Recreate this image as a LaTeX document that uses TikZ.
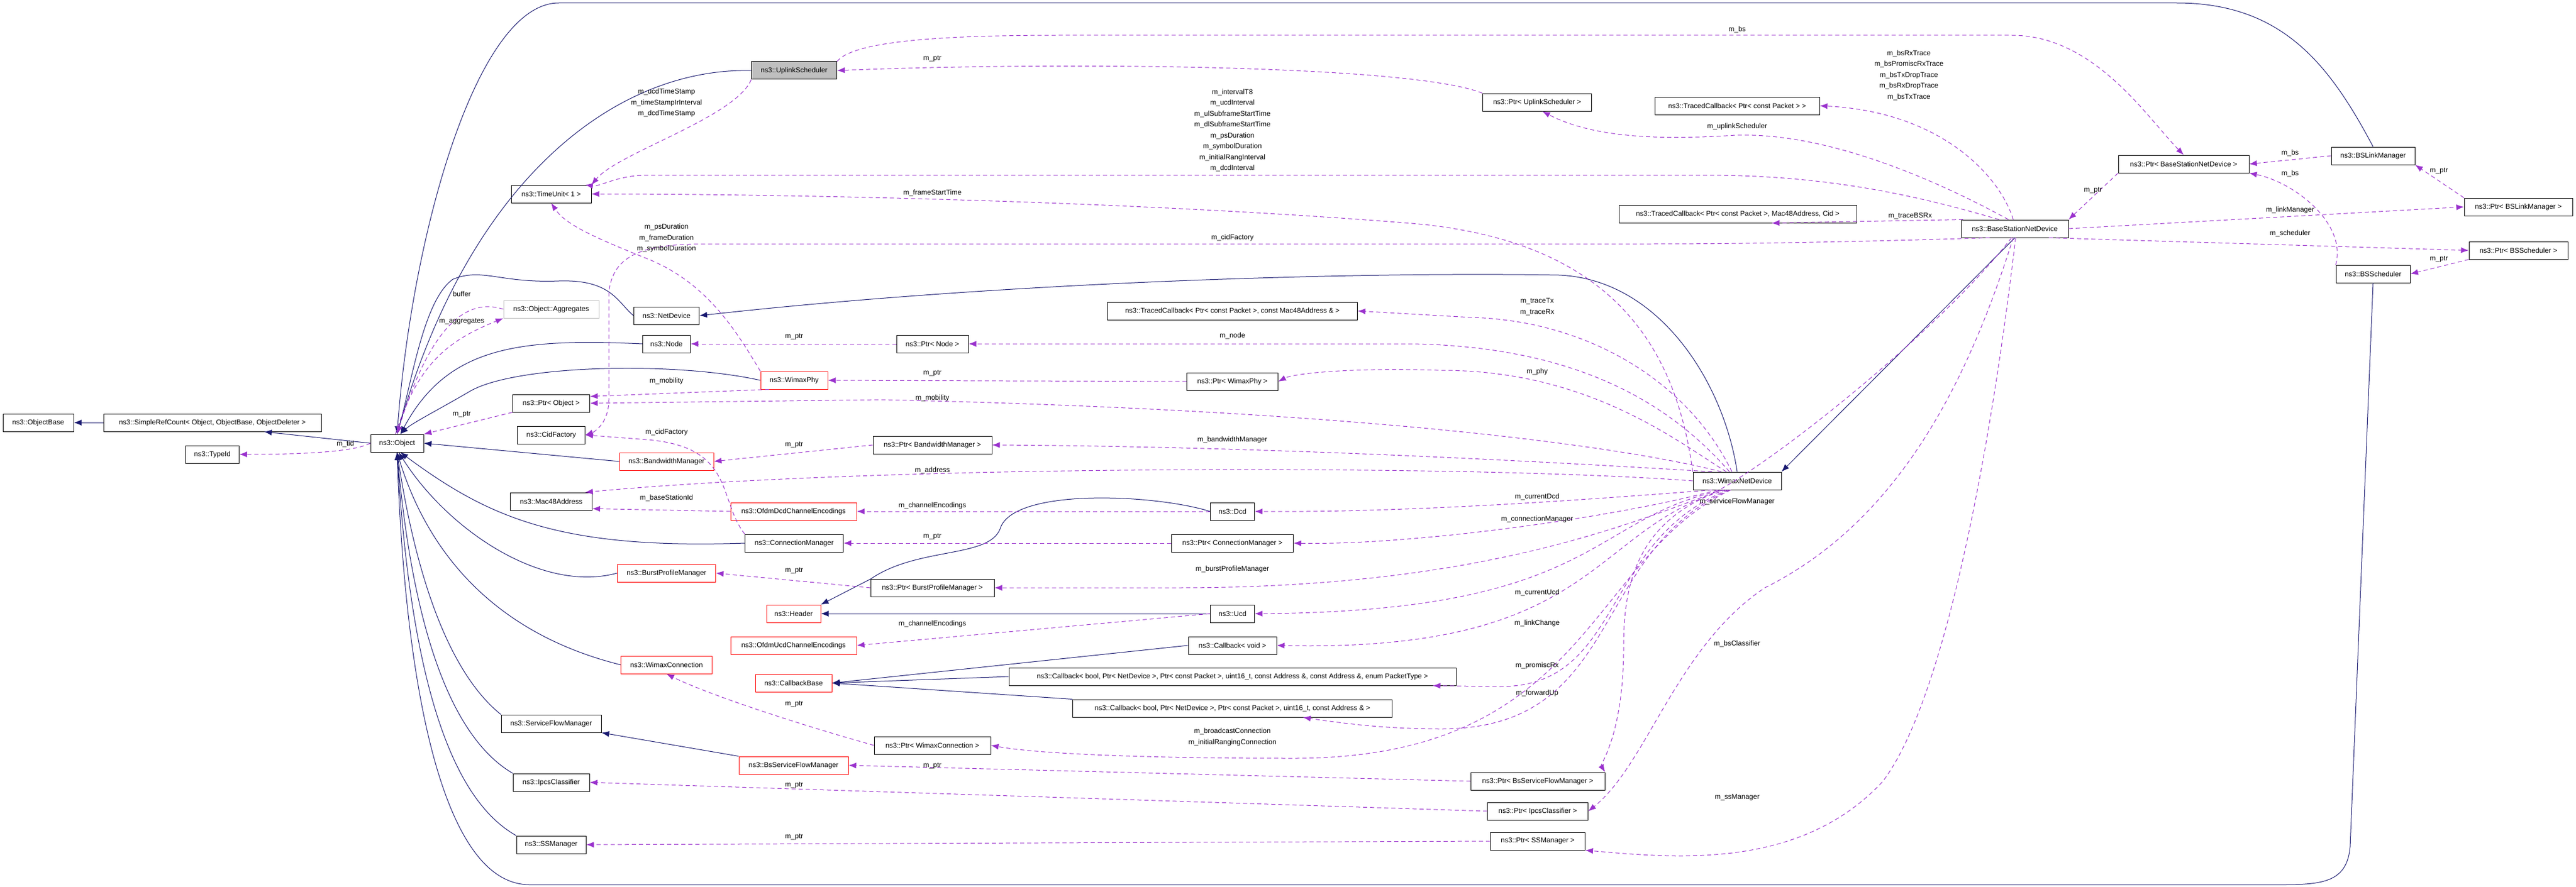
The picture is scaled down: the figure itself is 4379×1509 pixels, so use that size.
\documentclass[tikz,border=0pt]{standalone}
\usepackage{fontspec}
\setmainfont{Liberation Sans}
\usetikzlibrary{arrows.meta,calc}
\definecolor{inh}{HTML}{191970}
\definecolor{use}{HTML}{9A32CD}
\definecolor{gfill}{HTML}{BFBFBF}
\tikzset{
 cls/.style={draw=black,line width=1pt,fill=white,inner sep=0pt,minimum height=30pt,font=\fontsize{12}{14}\selectfont},
 redcls/.style={cls,draw=red},
 gcls/.style={cls,draw=gfill},
 inhe/.style={draw=inh,line width=1pt,-{Latex[length=13pt,width=10pt]}},
 usee/.style={draw=use,line width=1pt,dash pattern=on 7pt off 5pt,-{Latex[length=13pt,width=10pt]}},
 lbl/.style={inner sep=0pt,align=center,font=\fontsize{12}{18.5}\selectfont}
}
\begin{document}
\begin{tikzpicture}[x=1pt,y=-1pt]
\useasboundingbox[fill=white] (0,0) rectangle (4379,1509);
% nodes
\node[cls,minimum width=120pt] (ob) at (65,719) {ns3::ObjectBase};
\node[cls,minimum width=370pt] (src) at (361,719) {ns3::SimpleRefCount< Object, ObjectBase, ObjectDeleter >};
\node[cls,minimum width=90pt] (obj) at (675,754) {ns3::Object};
\node[cls,minimum width=91pt] (tid) at (361,773) {ns3::TypeId};
\node[cls,minimum width=145pt,fill=gfill] (us) at (1350,120) {ns3::UplinkScheduler};
\node[cls,minimum width=136pt] (tu) at (937,330) {ns3::TimeUnit< 1 >};
\node[gcls,minimum width=162pt] (agg) at (937,526) {ns3::Object::Aggregates};
\node[cls,minimum width=111pt] (nd) at (1133,537) {ns3::NetDevice};
\node[cls,minimum width=81pt] (node) at (1133,585) {ns3::Node};
\node[redcls,minimum width=114pt] (phy) at (1350,647) {ns3::WimaxPhy};
\node[cls,minimum width=131pt] (pobj) at (937,686) {ns3::Ptr< Object >};
\node[cls,minimum width=115pt] (cf) at (937,740) {ns3::CidFactory};
\node[redcls,minimum width=160pt] (bwm) at (1133,785) {ns3::BandwidthManager};
\node[cls,minimum width=139pt] (mac) at (937,853) {ns3::Mac48Address};
\node[redcls,minimum width=214pt] (odcd) at (1349,870) {ns3::OfdmDcdChannelEncodings};
\node[cls,minimum width=167pt] (cm) at (1350,924) {ns3::ConnectionManager};
\node[redcls,minimum width=167pt] (bpm) at (1133,975) {ns3::BurstProfileManager};
\node[redcls,minimum width=92pt] (hdr) at (1349,1044) {ns3::Header};
\node[redcls,minimum width=214pt] (oucd) at (1349,1098) {ns3::OfdmUcdChannelEncodings};
\node[redcls,minimum width=155pt] (wc) at (1133,1131) {ns3::WimaxConnection};
\node[redcls,minimum width=130pt] (cbb) at (1349,1162) {ns3::CallbackBase};
\node[cls,minimum width=170pt] (sfm) at (937,1231) {ns3::ServiceFlowManager};
\node[redcls,minimum width=186pt] (bssfm) at (1349,1302) {ns3::BsServiceFlowManager};
\node[cls,minimum width=130pt] (ipcs) at (937,1331) {ns3::IpcsClassifier};
\node[cls,minimum width=118pt] (ssm) at (937,1437) {ns3::SSManager};
\node[cls,minimum width=185pt] (pus) at (2613,174) {ns3::Ptr< UplinkScheduler >};
\node[cls,minimum width=280pt] (tc1) at (2953,180) {ns3::TracedCallback< Ptr< const Packet > >};
\node[cls,minimum width=404pt] (tc3) at (2954,364) {ns3::TracedCallback< Ptr< const Packet >, Mac48Address, Cid >};
\node[cls,minimum width=425pt] (tc2) at (2095,529) {ns3::TracedCallback< Ptr< const Packet >, const Mac48Address \& >};
\node[cls,minimum width=122pt] (pnode) at (1585,585) {ns3::Ptr< Node >};
\node[cls,minimum width=155pt] (pphy) at (2095,649) {ns3::Ptr< WimaxPhy >};
\node[cls,minimum width=202pt] (pbm) at (1585,757) {ns3::Ptr< BandwidthManager >};
\node[cls,minimum width=75pt] (dcd) at (2095,870) {ns3::Dcd};
\node[cls,minimum width=207pt] (pcm) at (2095,924) {ns3::Ptr< ConnectionManager >};
\node[cls,minimum width=210pt] (pbpm) at (1585,1000) {ns3::Ptr< BurstProfileManager >};
\node[cls,minimum width=75pt] (ucd) at (2095,1044) {ns3::Ucd};
\node[cls,minimum width=150pt] (cbv) at (2095,1098) {ns3::Callback< void >};
\node[cls,minimum width=760pt] (cbpt) at (2095,1151) {ns3::Callback< bool, Ptr< NetDevice >, Ptr< const Packet >, uint16\_t, const Address \&, const Address \&, enum PacketType >};
\node[cls,minimum width=543pt] (cbfu) at (2095,1205) {ns3::Callback< bool, Ptr< NetDevice >, Ptr< const Packet >, uint16\_t, const Address \& >};
\node[cls,minimum width=198pt] (pwc) at (1585,1268) {ns3::Ptr< WimaxConnection >};
\node[cls,minimum width=228pt] (pbssfm) at (2614,1329) {ns3::Ptr< BsServiceFlowManager >};
\node[cls,minimum width=171pt] (pipcs) at (2614,1380) {ns3::Ptr< IpcsClassifier >};
\node[cls,minimum width=161pt] (pssm) at (2614,1431) {ns3::Ptr< SSManager >};
\node[cls,minimum width=150pt] (wnd) at (2953,818) {ns3::WimaxNetDevice};
\node[cls,minimum width=222pt] (pbsnd) at (3712,279) {ns3::Ptr< BaseStationNetDevice >};
\node[cls,minimum width=142pt] (bslm) at (4034,265) {ns3::BSLinkManager};
\node[cls,minimum width=184pt] (pbslm) at (4281,352) {ns3::Ptr< BSLinkManager >};
\node[cls,minimum width=182pt] (bsnd) at (3425,389) {ns3::BaseStationNetDevice};
\node[cls,minimum width=168pt] (pbss) at (4281,426) {ns3::Ptr< BSScheduler >};
\node[cls,minimum width=126pt] (bss) at (4034,466) {ns3::BSScheduler};
\coordinate (cbptin) at ($(cbpt.south east)+(-40,0)$);
\coordinate (cbfuin) at ($(cbfu.south)+(120,0)$);
% inheritance
\draw[inhe] (src.west) -- (ob.east);
\draw[inhe] (obj.west) -- (src.-10);
\draw[inhe] (us.west) .. controls (1050,115) and (800,300) .. (obj.north);
\draw[inhe] (bslm.north) .. controls (3960,110) and (3880,5) .. (3700,5) -- (950,5) .. controls (810,5) and (700,400) .. (obj.north);
\draw[inhe] (bss.south) -- (3995,1440) .. controls (3990,1500) and (3950,1505) .. (3880,1505) -- (900,1505) .. controls (760,1505) and (690,1200) .. (obj.south);
\draw[inhe] (nd.west) .. controls (1050,515) and (1040,475) .. (950,478) .. controls (850,482) and (820,455) .. (770,475) .. controls (720,510) and (700,650) .. (obj.north);
\draw[inhe] (node.west) .. controls (880,575) and (760,590) .. (obj.70);
\draw[inhe] (phy.west) .. controls (1150,615) and (880,620) .. (800,665) .. controls (740,700) and (700,720) .. (obj.70);
\draw[inhe] (bwm.west) -- (obj.east);
\draw[inhe] (cm.west) .. controls (950,935) and (830,880) .. (obj.-70);
\draw[inhe] (bpm.west) .. controls (920,1010) and (760,900) .. (obj.-80);
\draw[inhe] (wc.west) .. controls (850,1080) and (730,950) .. (obj.south);
\draw[inhe] (sfm.north west) .. controls (770,1150) and (710,1000) .. (obj.south);
\draw[inhe] (ipcs.north west) .. controls (760,1250) and (700,1050) .. (obj.south);
\draw[inhe] (ssm.north west) .. controls (750,1350) and (695,1100) .. (obj.south);
\draw[inhe] (wnd.north) .. controls (2930,650) and (2820,475) .. (2650,468) .. controls (2300,462) and (1700,480) .. (nd.east);
\draw[inhe] (bsnd.south) -- (wnd.north east);
\draw[inhe] (bssfm.north west) -- (sfm.south east);
\draw[inhe] (dcd.west) .. controls (1960,840) and (1720,830) .. (1700,900) .. controls (1680,950) and (1560,930) .. (1480,985) -- (hdr.north east);
\draw[inhe] (ucd.west) -- (hdr.east);
\draw[inhe] (cbv.west) -- (cbb.east);
\draw[inhe] (cbpt.west) -- (cbb.east);
\draw[inhe] (cbfu.north west) -- (cbb.east);
% usage
\draw[usee] (obj.west) .. controls (600,770) and (500,773) .. (tid.east);
\draw[usee] (obj.100) .. controls (710,620) and (760,580) .. (agg.south west);
\draw[usee] (agg.west) .. controls (790,505) and (730,560) .. (obj.north);
\draw[usee] (pobj.south west) -- (obj.north east);
\draw[usee] (us.south west) .. controls (1250,200) and (1050,260) .. (tu.north east);
\draw[usee] (phy.north west) .. controls (1250,560) and (1200,480) .. (1100,440) .. controls (1000,400) and (960,380) .. (tu.south);
\draw[usee] (phy.200) -- (pobj.10);
\draw[usee] (pnode.west) -- (node.east);
\draw[usee] (pphy.west) -- (phy.east);
\draw[usee] (pbm.west) -- (bwm.east);
\draw[usee] (cm.north west) .. controls (1220,850) and (1250,760) .. (1100,748) -- (cf.east);
\draw[usee] (odcd.west) -- (mac.-10);
\draw[usee] (dcd.west) -- (odcd.east);
\draw[usee] (ucd.west) -- (oucd.east);
\draw[usee] (pcm.west) -- (cm.east);
\draw[usee] (pbpm.west) -- (bpm.east);
\draw[usee] (pwc.west) .. controls (1350,1230) and (1200,1180) .. (wc.south);
\draw[usee] (pbssfm.west) -- (bssfm.east);
\draw[usee] (pipcs.west) -- (ipcs.east);
\draw[usee] (pssm.west) -- (ssm.east);
\draw[usee] (pus.north west) .. controls (2400,110) and (1800,105) .. (us.east);
\draw[usee] (us.north east) .. controls (1450,70) and (1600,60) .. (1800,60) -- (3420,60) .. controls (3560,60) and (3650,200) .. (pbsnd.north);
\draw[usee] (pbsnd.south west) -- (bsnd.north east);
\draw[usee] (bslm.west) -- (pbsnd.east);
\draw[usee] (bss.north west) .. controls (3990,380) and (3900,310) .. (pbsnd.south east);
\draw[usee] (pbslm.north west) -- (bslm.south east);
\draw[usee] (pbss.south west) -- (bss.east);
\draw[usee] (bsnd.east) -- (pbslm.west);
\draw[usee] (bsnd.-15) -- (pbss.west);
\draw[usee] (bsnd.100) .. controls (3400,300) and (3300,190) .. (tc1.east);
\draw[usee] (bsnd.125) .. controls (3280,300) and (3100,225) .. (2950,230) .. controls (2800,240) and (2700,230) .. (pus.-60);
\draw[usee] (bsnd.150) .. controls (3250,330) and (3100,298) .. (2900,298) -- (1100,298) .. controls (1050,298) and (1020,318) .. (tu.15);
\draw[usee] (bsnd.170) -- (tc3.-15);
\draw[usee] (bsnd.200) .. controls (3200,410) and (3000,415) .. (2800,415) -- (1200,415) .. controls (1100,415) and (1040,430) .. (1035,500) -- (1035,680) .. controls (1035,720) and (1010,735) .. (cf.east);
\draw[usee] (bsnd.-110) .. controls (3300,560) and (3000,800) .. (2900,845) .. controls (2780,900) and (2760,1000) .. (2760,1100) .. controls (2760,1250) and (2720,1300) .. (pbssfm.north east);
\draw[usee] (bsnd.-100) .. controls (3330,700) and (3200,900) .. (3000,1000) .. controls (2850,1100) and (2800,1300) .. (pipcs.east);
\draw[usee] (bsnd.-85) .. controls (3380,800) and (3300,1200) .. (3200,1330) .. controls (3060,1480) and (2850,1460) .. (pssm.south east);
\draw[usee] (wnd.north west) .. controls (2850,600) and (2750,410) .. (2400,380) .. controls (1900,340) and (1300,330) .. (tu.east);
\draw[usee] (wnd.120) .. controls (2870,650) and (2700,545) .. (2500,540) -- (tc2.east);
\draw[usee] (wnd.130) .. controls (2850,700) and (2700,590) .. (2400,585) -- (pnode.east);
\draw[usee] (wnd.140) .. controls (2850,750) and (2700,630) .. (2450,630) .. controls (2300,625) and (2200,635) .. (pphy.east);
\draw[usee] (wnd.150) .. controls (2800,770) and (2400,700) .. (1500,680) -- (pobj.east);
\draw[usee] (wnd.160) .. controls (2700,790) and (2200,760) .. (pbm.east);
\draw[usee] (wnd.west) .. controls (2500,790) and (1500,790) .. (mac.15);
\draw[usee] (wnd.200) .. controls (2700,850) and (2400,872) .. (dcd.east);
\draw[usee] (wnd.205) .. controls (2750,880) and (2400,928) .. (pcm.east);
\draw[usee] (wnd.210) .. controls (2750,900) and (2500,1000) .. (2000,1000) -- (pbpm.east);
\draw[usee] (wnd.215) .. controls (2700,880) and (2720,1040) .. (ucd.east);
\draw[usee] (wnd.220) .. controls (2700,900) and (2720,1110) .. (cbv.east);
\draw[usee] (wnd.225) .. controls (2720,920) and (2760,1168) .. (2550,1168) -- (cbptin);
\draw[usee] (wnd.230) .. controls (2700,940) and (2760,1240) .. (2450,1240) .. controls (2350,1240) and (2280,1230) .. (cbfuin);
\draw[usee] (wnd.235) .. controls (2700,950) and (2700,1290) .. (2200,1290) .. controls (1900,1290) and (1750,1280) .. (pwc.east);
% labels
\node[lbl] (l1) at (587,755) {m\_tid};
\node[lbl] (l2) at (785,500) {buffer};
\node[lbl] (l3) at (785,547) {m\_aggregates};
\node[lbl] (l4) at (785,705) {m\_ptr};
\node[lbl] (l5) at (1133,175) {m\_ucdTimeStamp\\m\_timeStampIrInterval\\m\_dcdTimeStamp};
\node[lbl] (l6) at (1133,405) {m\_psDuration\\m\_frameDuration\\m\_symbolDuration};
\node[lbl] (l7) at (1133,648) {m\_mobility};
\node[lbl] (l8) at (1133,735) {m\_cidFactory};
\node[lbl] (l9) at (1350,573) {m\_ptr};
\node[lbl] (l10) at (1350,757) {m\_ptr};
\node[lbl] (l11) at (1133,847) {m\_baseStationId};
\node[lbl] (l12) at (1585,913) {m\_ptr};
\node[lbl] (l13) at (1585,860) {m\_channelEncodings};
\node[lbl] (l14) at (1350,971) {m\_ptr};
\node[lbl] (l15) at (1585,1061) {m\_channelEncodings};
\node[lbl] (l16) at (1350,1198) {m\_ptr};
\node[lbl] (l17) at (1585,1303) {m\_ptr};
\node[lbl] (l18) at (1350,1336) {m\_ptr};
\node[lbl] (l19) at (1350,1424) {m\_ptr};
\node[lbl] (l20) at (1585,100) {m\_ptr};
\node[lbl] (l21) at (2953,50) {m\_bs};
\node[lbl] (l22) at (2095,222) {m\_intervalT8\\m\_ucdInterval\\m\_ulSubframeStartTime\\m\_dlSubframeStartTime\\m\_psDuration\\m\_symbolDuration\\m\_initialRangInterval\\m\_dcdInterval};
\node[lbl] (l23) at (1585,328) {m\_frameStartTime};
\node[lbl] (l24) at (2095,404) {m\_cidFactory};
\node[lbl] (l25) at (2095,748) {m\_bandwidthManager};
\node[lbl] (l26) at (1585,800) {m\_address};
\node[lbl] (l27) at (1585,677) {m\_mobility};
\node[lbl] (l28) at (2095,571) {m\_node};
\node[lbl] (l29) at (1585,635) {m\_ptr};
\node[lbl] (l30) at (2613,632) {m\_phy};
\node[lbl] (l31) at (2613,522) {m\_traceTx\\m\_traceRx};
\node[lbl] (l32) at (2613,845) {m\_currentDcd};
\node[lbl] (l33) at (2613,883) {m\_connectionManager};
\node[lbl] (l34) at (2095,968) {m\_burstProfileManager};
\node[lbl] (l35) at (2613,1008) {m\_currentUcd};
\node[lbl] (l36) at (2613,1060) {m\_linkChange};
\node[lbl] (l37) at (2613,1132) {m\_promiscRx};
\node[lbl] (l38) at (2613,1179) {m\_forwardUp};
\node[lbl] (l39) at (2095,1254) {m\_broadcastConnection\\m\_initialRangingConnection};
\node[lbl] (l40) at (2953,853) {m\_serviceFlowManager};
\node[lbl] (l41) at (2953,1095) {m\_bsClassifier};
\node[lbl] (l42) at (2953,1357) {m\_ssManager};
\node[lbl] (l43) at (3245,128) {m\_bsRxTrace\\m\_bsPromiscRxTrace\\m\_bsTxDropTrace\\m\_bsRxDropTrace\\m\_bsTxTrace};
\node[lbl] (l44) at (2953,215) {m\_uplinkScheduler};
\node[lbl] (l45) at (3247,367) {m\_traceBSRx};
\node[lbl] (l46) at (3558,324) {m\_ptr};
\node[lbl] (l47) at (3893,260) {m\_bs};
\node[lbl] (l48) at (3893,295) {m\_bs};
\node[lbl] (l49) at (4146,291) {m\_ptr};
\node[lbl] (l50) at (3893,357) {m\_linkManager};
\node[lbl] (l51) at (3893,397) {m\_scheduler};
\node[lbl] (l52) at (4146,441) {m\_ptr};
\end{tikzpicture}
\end{document}
